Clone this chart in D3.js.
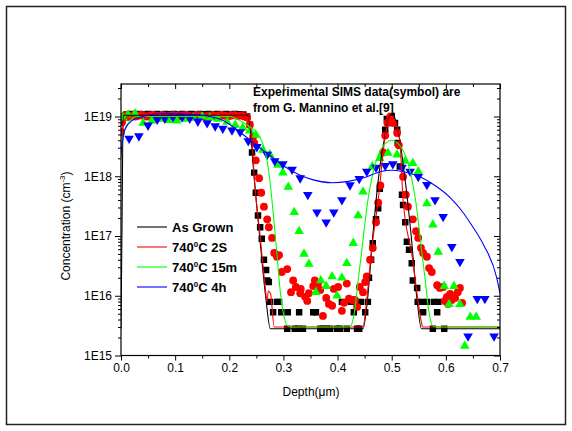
<!DOCTYPE html>
<html>
<head>
<meta charset="utf-8">
<script src="https://cdn.jsdelivr.net/npm/d3@7"></script>
<style>
  body { margin: 0; background: #fff; }
  text { font-family: "Liberation Sans", Arial, sans-serif; }
</style>
</head>
<body>
<svg id="chart" width="572" height="431"></svg>
<script>

// ---- data (depth in um, concentration in cm^-3) ----

var xTicks = [0.0, 0.1, 0.2, 0.3, 0.4, 0.5, 0.6, 0.7];
var yTicks = [1e15, 1e16, 1e17, 1e18, 1e19];

var seriesNames = ["As Grown", "740|C 2S", "740|C 15m", "740|C 4h"];

// simulation curves
var lineGrown = [[0.000, 2.8e15], [0.002, 2e17], [0.004, 1.05e19], [0.234, 1.05e19], [0.239, 6e18],
  [0.245, 1.2e18], [0.256, 1e17], [0.267, 1e16], [0.276, 2.8e15], [0.447, 2.8e15], [0.456, 1e16],
  [0.465, 1e17], [0.476, 1e18], [0.488, 5e18], [0.497, 1.05e19], [0.503, 1.05e19], [0.513, 5e18],
  [0.524, 1e18], [0.536, 1e17], [0.546, 1e16], [0.555, 2.8e15], [0.700, 2.8e15]];

var line2S = [[0.000, 2e18], [0.004, 7e18], [0.012, 1e19], [0.230, 1.02e19], [0.237, 9e18],
  [0.242, 4e18], [0.246, 1e18], [0.257, 1e17], [0.266, 1.5e16], [0.270, 8e15], [0.272, 1.2e16],
  [0.276, 1.1e16], [0.283, 3e15], [0.447, 3e15], [0.452, 6e15], [0.463, 6e16], [0.475, 4e17],
  [0.487, 4e18], [0.495, 9e18], [0.500, 1e19], [0.505, 9e18], [0.515, 4e18], [0.521, 4e17],
  [0.537, 5e16], [0.554, 4e15], [0.557, 3e15], [0.700, 3e15]];

var line15m = [[0.000, 3e18], [0.010, 7e18], [0.030, 1e19], [0.200, 1e19], [0.215, 9e18],
  [0.235, 7e18], [0.250, 5.5e18], [0.262, 3.5e18], [0.270, 1.8e18], [0.276, 7e17], [0.282, 2e17],
  [0.288, 5e16], [0.294, 1.2e16], [0.300, 5e15], [0.307, 3.2e15], [0.315, 3e15], [0.418, 3e15],
  [0.425, 3.2e15], [0.432, 6e15], [0.438, 1.8e16], [0.444, 5e16], [0.450, 1.5e17], [0.456, 4e17],
  [0.465, 1.1e18], [0.480, 2.8e18], [0.500, 4e18], [0.520, 2.8e18], [0.535, 1.1e18], [0.544, 4e17],
  [0.550, 1.5e17], [0.556, 5e16], [0.562, 1.8e16], [0.568, 6e15], [0.575, 3.2e15], [0.582, 3e15],
  [0.700, 3e15]];

var line4h = [[0.000, 2.5e18], [0.007, 6e18], [0.020, 8.5e18], [0.040, 1.0e19], [0.080, 1.12e19],
  [0.120, 1.1e19], [0.150, 1.05e19], [0.187, 8.7e18], [0.223, 5.2e18], [0.247, 3.5e18],
  [0.270, 2.4e18], [0.300, 1.5e18], [0.330, 1.05e18], [0.355, 8.7e17], [0.390, 7.8e17],
  [0.420, 8.2e17], [0.450, 9.5e17], [0.480, 1.2e18], [0.500, 1.26e18], [0.520, 1.2e18],
  [0.552, 9.8e17], [0.580, 7e17], [0.608, 4.4e17], [0.630, 2.6e17], [0.645, 1.65e17],
  [0.670, 7e16], [0.694, 2e16], [0.700, 1.1e16]];

// SIMS data (symbols)
var simsGrown = [[0.002, 1e19], [0.010, 1.08e19], [0.018, 1.1e19], [0.026, 1.08e19], [0.034, 1.1e19],
  [0.042, 1.08e19], [0.050, 1.1e19], [0.058, 1.09e19], [0.066, 1.1e19], [0.074, 1.08e19],
  [0.082, 1.1e19], [0.090, 1.09e19], [0.098, 1.1e19], [0.106, 1.08e19], [0.114, 1.1e19],
  [0.122, 1.09e19], [0.130, 1.1e19], [0.138, 1.08e19], [0.146, 1.1e19], [0.154, 1.09e19],
  [0.162, 1.1e19], [0.170, 1.08e19], [0.178, 1.1e19], [0.186, 1.09e19], [0.194, 1.1e19],
  [0.202, 1.08e19], [0.210, 1.1e19], [0.218, 1.09e19], [0.226, 1.08e19], [0.233, 1.0e19],
  [0.238, 7.3e18], [0.242, 2.5e18], [0.246, 1.15e18], [0.249, 5.3e17], [0.253, 2.2e17],
  [0.257, 1.4e17], [0.260, 9e16], [0.264, 4e16], [0.268, 2.7e16], [0.270, 1.8e16], [0.273, 1.7e16],
  [0.275, 7.9e15], [0.281, 5.3e15], [0.288, 7.9e15], [0.292, 7.9e15], [0.296, 5.3e15],
  [0.307, 2.8e15], [0.308, 5.3e15], [0.321, 2.8e15], [0.327, 2.8e15], [0.329, 5.3e15],
  [0.336, 2.8e15], [0.355, 5.3e15], [0.360, 5.3e15], [0.368, 2.8e15], [0.373, 2.8e15],
  [0.380, 2.8e15], [0.386, 2.8e15], [0.399, 2.8e15], [0.404, 2.8e15], [0.408, 7.9e15],
  [0.417, 2.8e15], [0.425, 7.9e15], [0.430, 5.3e15], [0.436, 2.8e15], [0.440, 2.8e15],
  [0.443, 7.9e15], [0.451, 5.3e15], [0.456, 7.9e15], [0.458, 2e16], [0.462, 4e16], [0.465, 7.6e16],
  [0.471, 1.9e17], [0.475, 2.9e17], [0.478, 6.2e17], [0.488, 6e18], [0.491, 9.1e18],
  [0.500, 1.02e19], [0.506, 7.8e18], [0.510, 6e18], [0.511, 3.6e18], [0.515, 1.45e18],
  [0.519, 4.9e17], [0.521, 3.3e17], [0.525, 1.7e17], [0.528, 8e16], [0.532, 5.9e16],
  [0.537, 3.5e16], [0.539, 1.8e16], [0.547, 1.35e16], [0.548, 7.9e15], [0.556, 7.9e15],
  [0.558, 5.3e15], [0.565, 7.9e15], [0.576, 2.8e15], [0.578, 7.9e15], [0.584, 5.3e15],
  [0.586, 7.9e15], [0.597, 2.8e15]];

var sims2S = [[0.000, 5.5e18], [0.002, 8e18], [0.004, 9.5e18], [0.008, 1.05e19], [0.012, 9.8e18],
  [0.017, 1.02e19], [0.022, 1.05e19], [0.027, 1.0e19], [0.032, 1.03e19], [0.037, 1.06e19],
  [0.042, 1.02e19], [0.048, 1.0e19], [0.054, 1.04e19], [0.060, 1.06e19], [0.066, 1.01e19],
  [0.072, 1.03e19], [0.078, 1.05e19], [0.084, 1.0e19], [0.090, 1.02e19], [0.096, 1.05e19],
  [0.102, 1.03e19], [0.108, 1.0e19], [0.114, 1.04e19], [0.120, 1.06e19], [0.126, 1.02e19],
  [0.132, 1.0e19], [0.138, 1.04e19], [0.144, 1.05e19], [0.150, 1.02e19], [0.156, 1.0e19],
  [0.162, 1.03e19], [0.168, 1.05e19], [0.174, 1.02e19], [0.180, 1.04e19], [0.186, 1.06e19],
  [0.192, 1.03e19], [0.198, 1.0e19], [0.204, 1.04e19], [0.210, 1.05e19], [0.216, 1.02e19],
  [0.222, 1.04e19], [0.228, 1.0e19], [0.233, 9.6e18], [0.238, 7.3e18], [0.244, 4.6e18],
  [0.246, 3.6e18], [0.249, 1.85e18], [0.255, 9.3e17], [0.259, 5.3e17], [0.264, 3.1e17],
  [0.270, 1.9e17], [0.273, 1.4e17], [0.279, 9.3e16], [0.283, 5.2e16], [0.288, 4.5e16],
  [0.292, 4.8e16], [0.297, 2.5e16], [0.307, 2.8e16], [0.314, 1.15e16], [0.318, 1.8e16],
  [0.323, 1.4e16], [0.331, 1.1e16], [0.332, 1.3e16], [0.340, 9.6e15], [0.344, 8.2e15],
  [0.347, 1.1e16], [0.355, 1.45e16], [0.358, 1.8e16], [0.364, 1.6e16], [0.368, 1.25e16],
  [0.373, 4.6e15], [0.379, 9.2e15], [0.384, 7.3e15], [0.390, 6.8e15], [0.393, 1.3e16],
  [0.401, 1.4e16], [0.408, 5.6e15], [0.412, 7.6e15], [0.417, 1.6e16], [0.421, 8.9e15],
  [0.427, 8.5e15], [0.432, 8.5e15], [0.436, 6.5e15], [0.441, 1.4e16], [0.447, 1.15e16],
  [0.451, 1.7e16], [0.454, 2.1e16], [0.460, 4e16], [0.465, 6.3e16], [0.471, 1.7e17],
  [0.475, 3.6e17], [0.479, 7e17], [0.484, 2.5e18], [0.488, 4.8e18], [0.492, 7.8e18],
  [0.497, 9.8e18], [0.502, 7.8e18], [0.510, 5.3e18], [0.513, 3.3e18], [0.521, 9.8e17],
  [0.526, 4.9e17], [0.530, 3.1e17], [0.539, 1.9e17], [0.545, 1.2e17], [0.549, 9.3e16],
  [0.554, 6.3e16], [0.558, 5.2e16], [0.565, 4.5e16], [0.569, 2.9e16], [0.574, 2.5e16],
  [0.584, 1.5e16], [0.589, 1.35e16], [0.595, 1.4e16], [0.598, 8.2e15], [0.602, 9.6e15],
  [0.604, 7.3e15], [0.608, 1.07e16], [0.611, 8.5e15], [0.617, 9.2e15], [0.622, 1.15e16],
  [0.626, 1.35e16], [0.630, 7.6e15]];

var sims15m = [[0.004, 9.5e18], [0.013, 1.07e19], [0.026, 1.12e19], [0.041, 7.8e18], [0.057, 8.5e18],
  [0.072, 9.1e18], [0.087, 8.7e18], [0.103, 8.5e18], [0.118, 9.1e18], [0.133, 9.5e18],
  [0.150, 1.0e19], [0.164, 9.5e18], [0.179, 9.1e18], [0.196, 8.1e18], [0.211, 7.2e18],
  [0.225, 6.5e18], [0.238, 5.8e18], [0.249, 4.9e18], [0.262, 2.75e18], [0.275, 2.3e18],
  [0.290, 1.55e18], [0.299, 1.15e18], [0.309, 6.6e17], [0.320, 2.5e17], [0.329, 1.2e17],
  [0.338, 5.0e16], [0.347, 3.4e16], [0.360, 1.15e16], [0.369, 1.8e16], [0.379, 1.45e16],
  [0.390, 2.1e16], [0.399, 1.0e16], [0.408, 2.0e16], [0.417, 3.5e16], [0.429, 7.6e16],
  [0.438, 2.2e17], [0.447, 5.5e17], [0.464, 1.45e18], [0.478, 2.0e18], [0.493, 2.45e18],
  [0.510, 2.3e18], [0.525, 1.8e18], [0.539, 1.65e18], [0.549, 1.2e18], [0.565, 3.5e17],
  [0.576, 1.55e17], [0.586, 5.4e16], [0.597, 1.45e16], [0.606, 7.2e15], [0.615, 1.45e16],
  [0.626, 7.2e15], [0.635, 1.45e15], [0.645, 4.4e15], [0.656, 4.4e15]];

var sims4h = [[0.015, 4.3e18], [0.033, 4.7e18], [0.050, 7.1e18], [0.067, 8.9e18], [0.081, 9.3e18],
  [0.096, 9.8e18], [0.113, 9.8e18], [0.127, 9.3e18], [0.142, 8.3e18], [0.159, 7.8e18],
  [0.174, 6.9e18], [0.188, 6.3e18], [0.205, 5.9e18], [0.220, 5.5e18], [0.235, 3.9e18],
  [0.251, 3.1e18], [0.270, 2.3e18], [0.284, 1.8e18], [0.299, 1.6e18], [0.316, 1.3e18],
  [0.331, 9.3e17], [0.345, 4.9e17], [0.362, 2.5e17], [0.379, 1.7e17], [0.393, 2.5e17],
  [0.408, 4.0e17], [0.423, 7.1e17], [0.440, 9.1e17], [0.454, 1.2e18], [0.471, 1.4e18],
  [0.488, 1.5e18], [0.502, 1.6e18], [0.519, 1.4e18], [0.534, 1.2e18], [0.549, 9.8e17],
  [0.565, 7.2e17], [0.580, 4.0e17], [0.595, 2.1e17], [0.611, 6.6e16], [0.626, 3.7e16],
  [0.641, 2.1e15], [0.658, 8.9e15], [0.672, 8.9e15], [0.689, 2.1e15]];

// ---- drawing ----

var svg = d3.select("#chart");

var plotLeft = 121, plotRight = 500, plotTop = 84, plotBottom = 355.5;

var x = d3.scaleLinear().domain([0, 0.7]).range([plotLeft, plotRight]);
var y = d3.scaleLog().domain([1e15, 3.5e19]).range([plotBottom, plotTop]);

var colors = ["#000000", "#ff0000", "#00ff00", "#0000ff"];

// outer page frame
svg.append("rect")
    .attr("x", 6.5).attr("y", 6.5)
    .attr("width", 559).attr("height", 418)
    .attr("fill", "none")
    .attr("stroke", "#222")
    .attr("stroke-width", 1.5);

svg.append("clipPath").attr("id", "plotclip")
  .append("rect")
    .attr("x", plotLeft).attr("y", plotTop)
    .attr("width", plotRight - plotLeft).attr("height", plotBottom - plotTop);

var plot = svg.append("g").attr("clip-path", "url(#plotclip)");

// symbols
var symbolSets = [
    { data: simsGrown, type: d3.symbolSquare, size: 42, rot: 0 },
    { data: sims2S, type: d3.symbolCircle, size: 48, rot: 0 },
    { data: sims15m, type: d3.symbolTriangle, size: 40, rot: 0 },
    { data: sims4h, type: d3.symbolTriangle, size: 40, rot: 180 }
];

symbolSets.forEach(function(s, i) {
    var sym = d3.symbol().type(s.type).size(s.size);
    plot.append("g").selectAll("path")
        .data(s.data)
      .enter().append("path")
        .attr("d", sym)
        .attr("fill", colors[i])
        .attr("transform", function(d) {
            return "translate(" + x(d[0]) + "," + y(d[1]) + ") rotate(" + s.rot + ")";
        });
});

// simulation lines
var line = d3.line()
    .x(function(d) { return x(d[0]); })
    .y(function(d) { return y(d[1]); })
    .curve(d3.curveMonotoneX);

[lineGrown, line2S, line15m, line4h].forEach(function(data, i) {
    plot.append("path")
        .datum(data)
        .attr("d", line)
        .attr("fill", "none")
        .attr("stroke", colors[i])
        .attr("stroke-width", 1.1);
});

// axes
var yMinor = y.ticks().filter(function(d) {
    return Math.abs(Math.log10(d) - Math.round(Math.log10(d))) > 1e-6;
});
var xMinor = xTicks.slice(0, -1).map(function(d) { return d + 0.05; });

function styleAxis(g) {
    g.select(".domain").remove();
    g.selectAll("line").attr("stroke", "#000");
    g.selectAll("text")
        .attr("font-size", "12px")
        .attr("fill", "#000")
        .attr("font-family", "Liberation Sans, Arial, sans-serif");
}

svg.append("g")
    .attr("transform", "translate(0," + plotBottom + ")")
    .call(d3.axisBottom(x).tickValues(xTicks).tickFormat(d3.format(".1f")).tickSize(5).tickPadding(3))
    .call(styleAxis);
svg.append("g")
    .attr("transform", "translate(0," + plotBottom + ")")
    .call(d3.axisBottom(x).tickValues(xMinor).tickFormat("").tickSize(3))
    .call(styleAxis);
svg.append("g")
    .attr("transform", "translate(0," + plotTop + ")")
    .call(d3.axisBottom(x).tickValues(xTicks).tickFormat("").tickSize(5))
    .call(styleAxis);
svg.append("g")
    .attr("transform", "translate(0," + plotTop + ")")
    .call(d3.axisBottom(x).tickValues(xMinor).tickFormat("").tickSize(3))
    .call(styleAxis);

svg.append("g")
    .attr("transform", "translate(" + plotLeft + ",0)")
    .call(d3.axisLeft(y).tickValues(yTicks)
        .tickFormat(function(d) { return "1E" + Math.round(Math.log10(d)); })
        .tickSize(6).tickPadding(3))
    .call(styleAxis);
svg.append("g")
    .attr("transform", "translate(" + plotLeft + ",0)")
    .call(d3.axisLeft(y).tickValues(yMinor).tickFormat("").tickSize(3))
    .call(styleAxis);
svg.append("g")
    .attr("transform", "translate(" + plotRight + ",0)")
    .call(d3.axisLeft(y).tickValues(yTicks).tickFormat("").tickSize(6))
    .call(styleAxis);
svg.append("g")
    .attr("transform", "translate(" + plotRight + ",0)")
    .call(d3.axisLeft(y).tickValues(yMinor).tickFormat("").tickSize(3))
    .call(styleAxis);

// plot frame
svg.append("rect")
    .attr("x", plotLeft).attr("y", plotTop)
    .attr("width", plotRight - plotLeft).attr("height", plotBottom - plotTop)
    .attr("fill", "none")
    .attr("stroke", "#000")
    .attr("stroke-width", 1.2);

// axis titles
svg.append("text")
    .attr("x", 311).attr("y", 396)
    .attr("text-anchor", "middle")
    .attr("font-size", "12px")
    .text("Depth(\u03bcm)");

var yTitle = svg.append("text")
    .attr("transform", "translate(70,226) rotate(-90)")
    .attr("text-anchor", "middle")
    .attr("font-size", "12px");
yTitle.append("tspan").text("Concentration (cm");
yTitle.append("tspan").attr("dy", -5).attr("font-size", "8px").text("-3");
yTitle.append("tspan").attr("dy", 5).text(")");

// annotation
var note = svg.append("g")
    .attr("font-size", "12px")
    .attr("font-weight", "bold");
note.append("text").attr("x", 253).attr("y", 96).text("Experimental SIMS data(symbol) are");
note.append("text").attr("x", 253).attr("y", 112).text("from G. Mannino et al.[9]");

// legend
var legend = svg.append("g")
    .attr("transform", "translate(137,227)");

seriesNames.forEach(function(name, i) {
    var row = legend.append("g").attr("transform", "translate(0," + (i * 20) + ")");
    row.append("line")
        .attr("x1", 0).attr("x2", 30)
        .attr("y1", 0).attr("y2", 0)
        .attr("stroke", colors[i])
        .attr("stroke-width", 1.1);
    var t = row.append("text")
        .attr("x", 35).attr("y", 5)
        .attr("font-size", "13px")
        .attr("font-weight", "bold");
    var parts = name.split("|");
    t.append("tspan").text(parts[0]);
    if (parts.length > 1) {
        t.append("tspan").attr("dy", -5).attr("font-size", "8px").text("0");
        t.append("tspan").attr("dy", 5).text(parts[1]);
    }
});

</script>
</body>
</html>
